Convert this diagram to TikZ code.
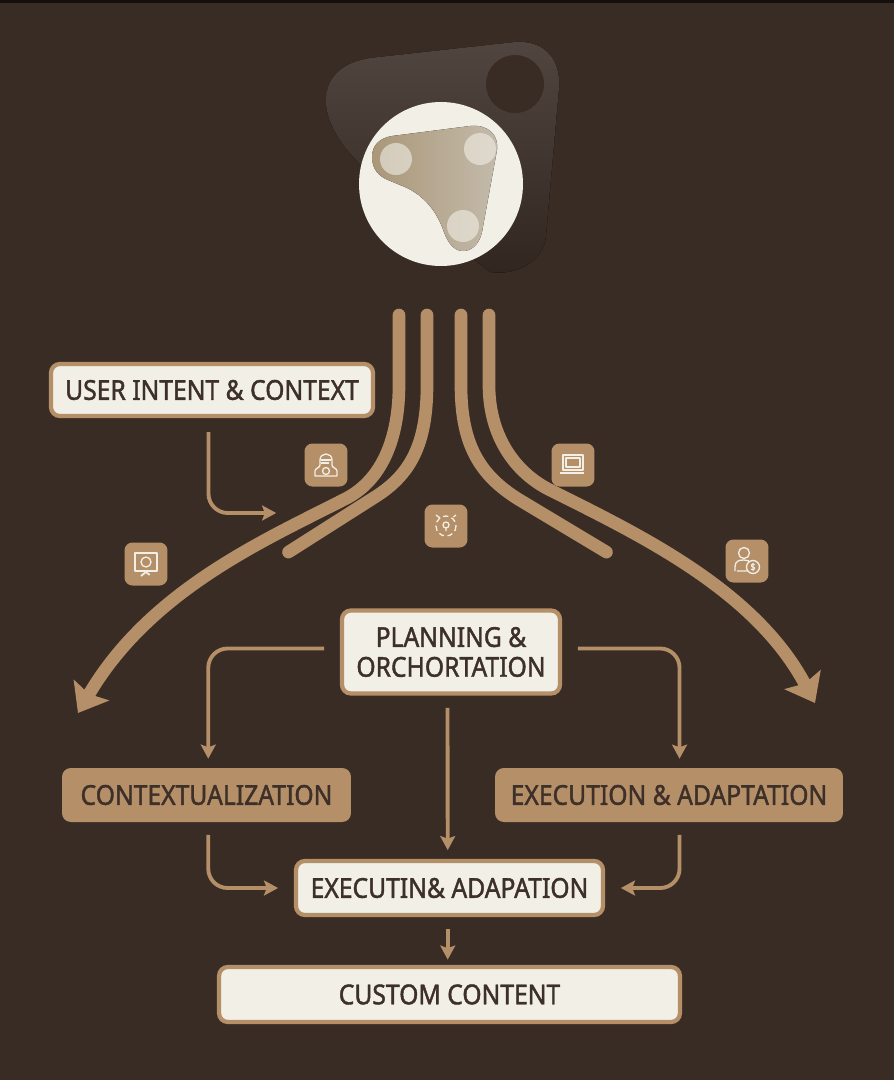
\documentclass[tikz,border=0pt]{standalone}
\usepackage{fontspec}
\setmainfont{Noto Sans}[AutoFakeBold=1.5, FakeStretch=0.9]
\usetikzlibrary{arrows.meta,calc}
\definecolor{bgbrown}{HTML}{392C25}
\definecolor{tanline}{HTML}{B58F68}
\definecolor{creamfill}{HTML}{F1EFE6}
\definecolor{inkbrown}{HTML}{3D3029}
\definecolor{blobleft}{HTML}{AA9778}
\definecolor{blobright}{HTML}{C4BBAB}
\begin{document}
\begin{tikzpicture}[x=0.02cm, y=-0.02cm, shorten >=1pt, semithick]
 % Define block styles
	\tikzstyle{block} = [rectangle, draw=tanline, fill=creamfill, line width=2.4pt, rounded corners=5pt, text=inkbrown, font=\bfseries\fontsize{15.6}{17}\selectfont, align=center, inner sep=0pt]
	\tikzstyle{tanblock} = [rectangle, fill=tanline, rounded corners=5pt, text=inkbrown, font=\bfseries\fontsize{15.6}{17}\selectfont, inner sep=0pt]
	\tikzstyle{tile} = [rectangle, fill=tanline, rounded corners=4.5pt, minimum width=0.86cm, minimum height=0.86cm, inner sep=0pt]
	\tikzstyle{band} = [draw=tanline, line width=7.2pt, line cap=round]
	\tikzstyle{bandhead} = [-{Stealth[length=15pt, width=23pt, inset=2.5pt]}, shorten >=0pt]
	\tikzstyle{flow} = [-{Stealth[length=8pt, width=8.5pt, inset=1.5pt]}, draw=tanline, line width=2.2pt, rounded corners=11pt]
	\tikzstyle{iconline} = [draw=creamfill, line width=0.75pt, line join=round]
%%====Background===============================================================
	\fill [bgbrown] (0,0) rectangle (894,1080);
	\fill [black!65!bgbrown] (0,0) rectangle (894,3);
	\useasboundingbox (0,0) rectangle (894,1080);
%%====Logo=====================================================================
	\fill [top color=bgbrown!88!white, middle color=bgbrown!95!white, bottom color=black!15!bgbrown] (326,100) .. controls (326,75) and (345,62) .. (370,58) -- (515,42) .. controls (545,40) and (561,60) .. (559,88) -- (546,235) .. controls (544,262) and (515,276) .. (490,272) -- (400,200) .. controls (350,160) and (326,130) .. (326,100) -- cycle;
	\fill [bgbrown] (515,84) circle (29);
	\node [circle, fill=creamfill, minimum size=3.28cm, inner sep=0pt] (logo) at (441,184) {};
	\fill [left color=blobleft, right color=blobright] (372,157) .. controls (372,145) and (380,138) .. (392,136) -- (470,126) .. controls (488,124) and (499,135) .. (497,150) -- (482,232) .. controls (479,246) and (470,251) .. (463,251) .. controls (454,251) and (448,243) .. (444,232) .. controls (437,212) and (425,196) .. (405,187) -- (388,180) .. controls (378,176) and (372,168) .. (372,157) -- cycle;
	\fill [creamfill, opacity=0.6] (396,159) circle (16);
	\fill [creamfill, opacity=0.6] (480,149) circle (16);
	\fill [creamfill, opacity=0.6] (463,226) circle (16);
%%====Definizione stati e posizione============================================
	\node [block, minimum width=6.44cm, minimum height=1.04cm] (user) at (212,390) {USER INTENT \& CONTEXT};
	\node [block, minimum width=4.36cm, minimum height=1.66cm] (plan) at (451,652) {PLANNING \&\\ORCHORTATION};
	\node [tanblock, minimum width=5.78cm, minimum height=1.08cm] (ctx) at (206.5,795) {CONTEXTUALIZATION};
	\node [tanblock, minimum width=6.96cm, minimum height=1.08cm] (adapt) at (669,795) {EXECUTION \& ADAPTATION};
	\node [block, minimum width=6.14cm, minimum height=1.08cm] (exec) at (449.5,888) {EXECUTIN\& ADAPATION};
	\node [block, minimum width=9.22cm, minimum height=1.10cm, node distance=2.13cm] (custom) [below of=exec] {CUSTOM CONTENT};
%%====Icon tiles===============================================================
	\node [tile] (tilehood) at (326,465) {};
	\node [tile] (tilelaptop) at (573,465) {};
	\node [tile] (tileclock) at (446,526) {};
	\node [tile] (tilescreen) at (146,564) {};
	\node [tile] (tileperson) at (747,561) {};
	\begin{scope}[shift={(tilehood.center)}]
		\draw [iconline] (-11,11) -- (-11,6) .. controls (-11,3) and (-6,3) .. (-6,0) -- (-6,-5) .. controls (-6,-13) and (6,-13) .. (6,-5) -- (6,0) .. controls (6,3) and (11,3) .. (11,6) -- (11,11) -- cycle;
		\draw [iconline] (-5,-5) -- (5,-5) (-5,-2) -- (5,-2);
		\draw [iconline] (0,6) circle (3.5);
	\end{scope}
	\begin{scope}[shift={(tilelaptop.center)}]
		\draw [iconline] (-10,-10) rectangle (10,5);
		\draw [iconline] (-7,-7) rectangle (7,2);
		\draw [iconline, line width=1.2pt] (-13,8) -- (13,8);
	\end{scope}
	\begin{scope}[shift={(tileclock.center)}]
		\draw [iconline, densely dashed] (0,0) circle (10);
		\draw [iconline] (-10,-11) -- (-6,-8) (10,-11) -- (6,-8);
		\draw [iconline] (0,-1) circle (3) (0,2) -- (0,5);
	\end{scope}
	\begin{scope}[shift={(tilescreen.center)}]
		\draw [iconline] (-11,-11) rectangle (11,7);
		\draw [iconline] (0,-2) circle (5);
		\draw [iconline, line width=1pt] (-5,12) -- (0,8) -- (5,12);
	\end{scope}
	\begin{scope}[shift={(tileperson.center)}]
		\draw [iconline] (-3,-8) circle (5.5);
		\draw [iconline] (-12,10) -- (-12,6) .. controls (-12,0) and (-8,-1) .. (-3,-1) .. controls (0,-1) and (3,0) .. (4,2) (0,10) -- (-12,10);
		\draw [iconline, fill=tanline] (6,6) circle (6.5);
		\node [inner sep=0pt, text=creamfill, font=\bfseries\fontsize{5.5}{5.5}\selectfont] (dollar) at (6,6) {\$};
	\end{scope}
%%====Bands====================================================================
	\coordinate (bandA) at (399,315);
	\coordinate (bandB) at (427,315);
	\coordinate (bandC) at (461,315);
	\coordinate (bandD) at (489,315);
	\coordinate (tipleft) at (78,713);
	\coordinate (tipright) at (815,703);
	\coordinate (endB) at (287,553);
	\coordinate (endC) at (608,553);
	\draw [band, bandhead] (bandA) -- (399,385) .. controls (399,440) and (381,481) .. (345,499) .. controls (265,540) and (150,590) .. (tipleft);
	\draw [band] (bandB) -- (427,385) .. controls (427,445) and (410,475) .. (375,497) -- (endB);
	\draw [band] (bandC) -- (461,385) .. controls (461,445) and (480,475) .. (518,499) -- (endC);
	\draw [band, bandhead] (bandD) -- (489,385) .. controls (489,435) and (514,472) .. (550,490) .. controls (640,535) and (755,590) .. (tipright);
%%====Arrows===================================================================
	\coordinate (usertip) at (278,513);
	\draw [flow, shorten <=8pt] ([xshift=-2pt]user.south) |- (usertip);
	\draw [flow, shorten <=9pt, shorten >=5pt] ([yshift=2pt]plan.west) -| ([xshift=1pt]ctx.north);
	\draw [flow, shorten <=9pt, shorten >=5pt] ([yshift=2pt]plan.east) -| ([xshift=6pt]adapt.north);
	\draw [flow, shorten <=7pt, shorten >=5pt] ([xshift=-2pt]plan.south) -- ([xshift=-1pt]exec.north);
	\draw [flow, shorten <=7pt, shorten >=9pt] ([xshift=1pt]ctx.south) |- (exec.west);
	\draw [flow, shorten <=7pt, shorten >=9pt] ([xshift=6pt]adapt.south) |- (exec.east);
	\draw [flow, shorten <=7pt, shorten >=3pt] ([xshift=-1pt]exec.south) -- ([xshift=-1pt]custom.north);
\end{tikzpicture}
\end{document}
